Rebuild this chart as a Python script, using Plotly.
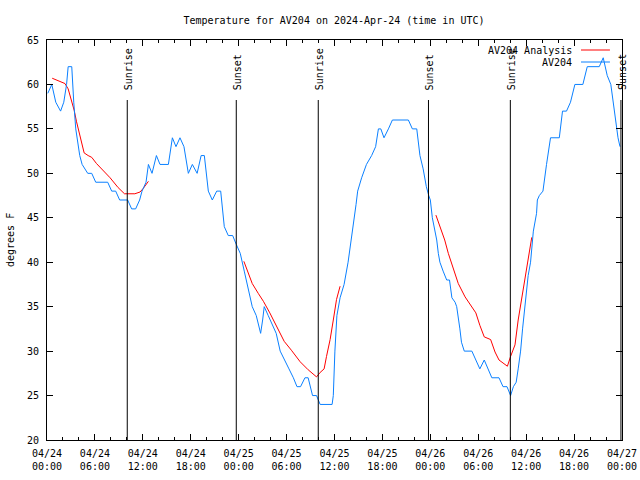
import pandas as pd
import plotly.graph_objects as go

START = pd.Timestamp("2024-04-24 00:00")

# AV204 observed temperature: hours since 04/24 00:00 UTC, degrees F
obs_hours = [0.1, 0.6, 1.1, 1.7, 2.1, 2.45, 2.65, 3.1, 3.35, 3.6, 4.1, 4.4, 5.1, 5.6, 6.1,
             7.6, 8.1, 8.6, 9.1, 10.1, 10.6, 11.1, 11.6, 11.9, 12.4, 12.7, 13.15, 13.7,
             14.15, 15.2, 15.7, 16.15, 16.65, 17.15, 17.7, 18.2, 18.8, 19.3, 19.7, 20.2,
             20.7, 21.25, 21.75, 22.2, 22.7, 23.25, 23.7, 24.2, 24.7, 25.2, 25.7, 26.2,
             26.5, 26.75, 27.0, 27.2, 27.7, 28.2, 28.7, 29.2, 29.8, 30.3, 30.85, 31.3,
             31.75, 32.3, 32.7, 33.25, 33.75, 34.2, 35.7, 35.85, 36.05, 36.3, 36.7, 37.2,
             37.7, 38.2, 38.7, 38.9, 39.4, 40.0, 40.65, 41.15, 41.5, 41.8, 42.2, 42.75,
             43.25, 45.25, 45.75, 46.3, 46.5, 46.7, 47.1, 47.5, 47.8, 48.0, 48.25, 48.5,
             48.8, 49.0, 49.2, 49.6, 50.05, 50.4, 50.7, 51.1, 51.3, 51.7, 51.9, 52.25,
             53.2, 53.7, 54.2, 54.75, 55.25, 55.7, 56.6, 57.1, 57.6, 58.05, 58.4, 58.75,
             59.0, 59.3, 59.55, 59.85, 60.25, 60.55, 60.9, 61.3, 61.4, 61.65, 62.1, 62.55,
             63.05, 64.15, 64.55, 65.05, 65.55, 66.1, 67.1, 67.65, 69.15, 69.65, 70.15,
             70.6, 70.9, 71.25, 71.5, 71.75]
obs_temps = [59, 60, 58, 57, 58, 60, 62, 62, 58, 55, 52, 51, 50, 50, 49,
             49, 48, 48, 47, 47, 46, 46, 47, 48, 49, 51, 50, 52,
             51, 51, 54, 53, 54, 53, 50, 51, 50, 52, 52, 48,
             47, 48, 48, 44, 43, 43, 42, 41, 39, 37, 35, 34,
             33, 32, 33.5, 35, 34, 33, 32, 30, 29, 28, 27, 26,
             26, 27, 27, 25, 25, 24, 24, 25, 30, 34, 36, 37.5,
             40, 43, 46.5, 48, 49.5, 51, 52, 53, 55, 55, 54, 55,
             56, 56, 55, 55, 53.5, 52, 50.5, 48.5, 47.5, 47, 45, 44,
             42.5, 41, 40, 39, 38, 38, 36, 35.5, 35, 32.5, 31, 30,
             30, 29, 28, 29, 28, 27, 27, 26, 26, 25, 26, 26.5,
             28, 30, 32.5, 35, 38.5, 40, 43.5, 45.5, 47, 47.5, 48, 51,
             54, 54, 57, 57, 58, 60, 60, 62, 62, 63, 61,
             60, 58, 56, 54, 53]

# AV204 Analysis (None separates the nightly segments)
ana_hours = [0.65, 1.2, 2.25, 2.65, 3.1, 3.4, 3.7, 4.05, 4.35, 4.65, 5.15, 5.6, 6.2, 7.05,
             7.9, 8.9, 9.7, 11.0, 11.65, 12.05, 12.7, None,
             24.65, 25.2, 25.7, 26.45, 27.1, 27.9, 28.75, 29.7, 30.6, 31.7, 32.7, 33.75,
             34.2, 34.7, 35.0, 35.45, 35.85, 36.25, 36.7, None,
             48.7, 49.2, 49.8, 50.25, 50.9, 51.5, 52.35, 53.2, 53.7, 54.2, 54.75, 55.55,
             56.1, 56.6, 57.15, 57.65, 58.05, 58.6, 59.0, 59.45, 59.85, 60.25, 60.7]
ana_temps = [60.7, 60.5, 60.1, 59.5, 58.2, 57.1, 55.8, 54.5, 53.4, 52.3, 52.0, 51.8, 51.1, 50.3,
             49.5, 48.4, 47.7, 47.7, 47.9, 48.3, 49.1, None,
             40.1, 38.8, 37.6, 36.5, 35.6, 34.3, 32.8, 31.1, 30.1, 28.8, 27.9, 27.1,
             27.6, 28.0, 29.4, 31.3, 33.5, 35.8, 37.3, None,
             45.3, 44.0, 42.5, 41.0, 39.1, 37.6, 36.1, 35.0, 34.3, 32.9, 31.6, 31.3,
             29.9, 29.0, 28.6, 28.3, 29.4, 30.7, 33.5, 36.1, 38.4, 40.6, 42.8]

sun_events = ["Sunrise", "Sunset", "Sunrise", "Sunset", "Sunrise", "Sunset"]
sun_times = ["2024-04-24 10:03", "2024-04-24 23:42", "2024-04-25 09:58",
             "2024-04-25 23:46", "2024-04-26 10:01", "2024-04-26 23:52"]

legend_names = ["AV204 Analysis", "AV204"]
BLUE = "#0a80ff"
RED = "#ff0000"
FONT = "DejaVu Sans Mono"

W, H = 640, 480
L, R, T, B = 47, 18, 40, 40
PW = W - L - R


def to_time(hours):
    return [None if h is None else START + pd.Timedelta(hours=h) for h in hours]


fig = go.Figure()
fig.add_trace(go.Scatter(x=to_time(ana_hours), y=ana_temps, mode="lines",
                         name=legend_names[0], line=dict(color=RED, width=1),
                         connectgaps=False))
fig.add_trace(go.Scatter(x=to_time(obs_hours), y=obs_temps, mode="lines",
                         name=legend_names[1], line=dict(color=BLUE, width=1)))

shapes = []
annotations = []
for name, t in zip(sun_events, sun_times):
    shapes.append(dict(type="line", xref="x", yref="paper", x0=t, x1=t, y0=0, y1=0.85,
                       line=dict(color="black", width=1)))
    annotations.append(dict(x=t, y=0.87, xref="x", yref="paper", text=name,
                            textangle=-90, showarrow=False, xanchor="center",
                            yanchor="bottom", xshift=1,
                            font=dict(family=FONT, size=10, color="black")))

# gnuplot-style key (text left, sample right)
for name, col, yy in zip(legend_names, [RED, BLUE], [0.975, 0.945]):
    annotations.append(dict(x=0.9165, y=yy, xref="paper", yref="paper", text=name,
                            showarrow=False, xanchor="right", yanchor="middle",
                            font=dict(family=FONT, size=10, color="black")))
    shapes.append(dict(type="line", xref="paper", yref="paper", x0=0.9287, x1=0.979,
                       y0=yy, y1=yy, line=dict(color=col, width=1)))

annotations.append(dict(x=(10 - L) / PW, y=0.5, xref="paper", yref="paper", text="degrees F",
                        textangle=-90, showarrow=False, xanchor="center", yanchor="middle",
                        font=dict(family=FONT, size=10, color="black")))

fig.update_layout(
    width=W, height=H,
    margin=dict(l=L, r=R, t=T, b=B, autoexpand=False),
    paper_bgcolor="white", plot_bgcolor="white",
    showlegend=False,
    hovermode=False,
    font=dict(family=FONT, size=10, color="black"),
    title=dict(text="Temperature for AV204 on 2024-Apr-24 (time in UTC)",
               x=334 / W, xanchor="center", y=1 - 20 / H, yanchor="middle",
               font=dict(family=FONT, size=10, color="black")),
    shapes=shapes,
    annotations=annotations,
)
fig.update_xaxes(
    type="date", automargin=False, ticklabeloverflow="allow",
    range=["2024-04-24 00:00", "2024-04-27 00:00"],
    tick0="2024-04-24 00:00", dtick=6 * 3600 * 1000,
    tickformat="%m/%d<br>%H:%M",
    ticks="inside", ticklen=6, tickcolor="black", tickwidth=1,
    ticklabelstandoff=4,
    minor=dict(dtick=2 * 3600 * 1000, ticks="inside", ticklen=3,
               tickcolor="black", showgrid=False),
    showline=True, linecolor="black", linewidth=1, mirror="ticks",
    showgrid=False, zeroline=False,
    tickfont=dict(family=FONT, size=10, color="black"),
)
fig.update_yaxes(
    automargin=False,
    range=[20, 65], dtick=5, tick0=20,
    ticks="inside", ticklen=6, tickcolor="black", tickwidth=1,
    ticklabelstandoff=5,
    showline=True, linecolor="black", linewidth=1, mirror="ticks",
    showgrid=False, zeroline=False,
    tickfont=dict(family=FONT, size=10, color="black"),
)

# remove the browser's default 8px page margin so the figure fills the window
fig.write_html("out.html", config={"displayModeBar": False},
               post_script="document.body.style.margin='0';")
